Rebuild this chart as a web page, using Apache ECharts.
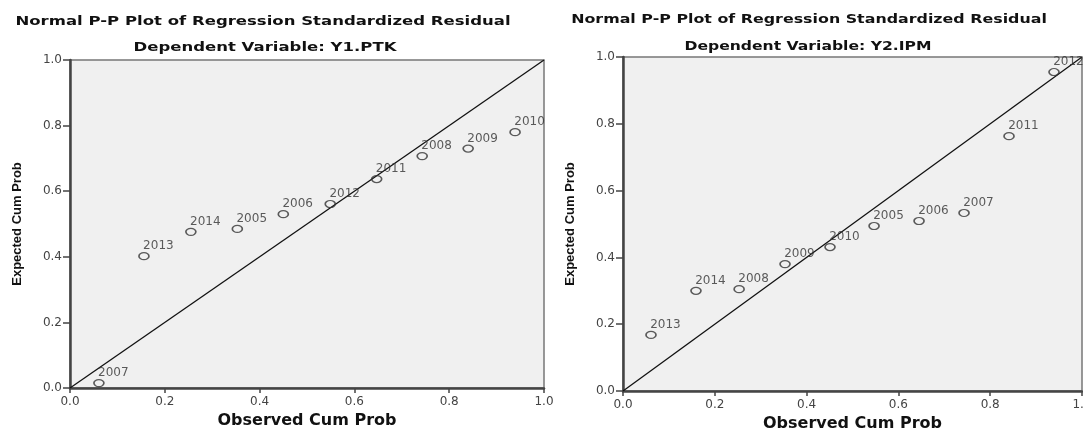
<!DOCTYPE html>
<html>
<head>
<meta charset="utf-8">
<script src="https://cdn.jsdelivr.net/npm/echarts@6/dist/echarts.min.js"></script>
<style>
html,body{margin:0;padding:0;background:#fff;}
#c{width:1083px;height:430px;}
</style>
</head>
<body>
<div id="c"></div>
<script>
// ---- data ----
const yearsY1 = ['2007','2013','2014','2005','2006','2012','2011','2008','2009','2010'];
const observedY1 = [0.061, 0.156, 0.255, 0.353, 0.450, 0.549, 0.647, 0.743, 0.840, 0.939];
const expectedY1 = [0.015, 0.402, 0.476, 0.485, 0.530, 0.561, 0.637, 0.707, 0.730, 0.780];

const yearsY2 = ['2013','2014','2008','2009','2010','2005','2006','2007','2011','2012'];
const observedY2 = [0.061, 0.159, 0.253, 0.353, 0.451, 0.547, 0.645, 0.743, 0.841, 0.939];
const expectedY2 = [0.168, 0.300, 0.305, 0.380, 0.431, 0.494, 0.509, 0.533, 0.763, 0.955];

const refLine = [0, 1];
const tickLabels = ['0.0','0.2','0.4','0.6','0.8','1.0'];
const titleMain = 'Normal P-P Plot of Regression Standardized Residual';
const titleSubs = ['Dependent Variable: Y1.PTK', 'Dependent Variable: Y2.IPM'];
const xName = 'Observed Cum Prob';
const yName = 'Expected Cum Prob';

// ---- chart ----
const chart = echarts.init(document.getElementById('c'));
const FONT = 'DejaVu Sans';

function pts(xs, ys, names) {
  return xs.map((x, i) => ({ value: [x, ys[i]], name: names[i] }));
}
function axisX(gi) {
  return {
    type: 'value', gridIndex: gi, min: 0, max: 1, interval: 0.2,
    name: xName, nameLocation: 'middle', nameGap: 25,
    nameTextStyle: { fontFamily: FONT, fontWeight: 'bold', fontSize: 16, color: '#111' },
    axisLine: { show: true, lineStyle: { color: '#444', width: 2.5 } },
    axisTick: { show: true, length: 5, lineStyle: { color: '#444', width: 1.5 } },
    axisLabel: { fontFamily: FONT, fontSize: 12, color: '#444', margin: 8,
      formatter: v => tickLabels[Math.round(v * 5)] },
    splitLine: { show: false }
  };
}
function axisY(gi) {
  return {
    type: 'value', gridIndex: gi, min: 0, max: 1, interval: 0.2,
    name: yName, nameLocation: 'middle', nameGap: 46, nameRotate: 90,
    nameTextStyle: { fontFamily: 'Liberation Sans', fontWeight: 'bold', fontSize: 13, color: '#111' },
    axisLine: { show: true, lineStyle: { color: '#444', width: 2.5 } },
    axisTick: { show: true, length: 7, lineStyle: { color: '#444', width: 1.5 } },
    axisLabel: { fontFamily: FONT, fontSize: 12, color: '#444', margin: 8,
      formatter: v => tickLabels[Math.round(v * 5)] },
    splitLine: { show: false }
  };
}
function scatter(gi, xs, ys, names) {
  return {
    type: 'scatter', xAxisIndex: gi, yAxisIndex: gi,
    data: pts(xs, ys, names),
    symbol: 'circle', symbolSize: [10, 7],
    itemStyle: { color: 'rgba(0,0,0,0)', borderColor: '#333', borderWidth: 1.4 },
    label: { show: true, formatter: p => p.name, position: [5, -12],
      fontFamily: FONT, fontSize: 12, color: '#333' },
    emphasis: { disabled: true }, z: 3
  };
}
function diag(gi) {
  return {
    type: 'line', xAxisIndex: gi, yAxisIndex: gi,
    data: [[refLine[0], refLine[0]], [refLine[1], refLine[1]]],
    showSymbol: false, symbol: 'none',
    lineStyle: { color: '#111', width: 1.3 }, z: 2, silent: true
  };
}
function titleText(txt, x, y, sx) {
  return {
    type: 'text', x: x, y: y, scaleX: sx, silent: true, z: 10,
    style: { text: txt, fill: '#111', textAlign: 'center', textVerticalAlign: 'middle',
      font: 'bold 13px "DejaVu Sans"' }
  };
}

chart.setOption({
  animation: false,
  backgroundColor: '#fff',
  graphic: [
    titleText(titleMain, 263, 22, 1.27),
    titleText(titleSubs[0], 265, 48, 1.27),
    titleText(titleMain, 809, 20, 1.22),
    titleText(titleSubs[1], 808, 47, 1.2)
  ],
  grid: [
    { left: 70, top: 60, width: 474, height: 328, show: true, outerBoundsMode: 'none', containLabel: false,
      backgroundColor: '#f0f0f0', borderColor: '#777', borderWidth: 1.5 },
    { left: 623, top: 57, width: 459, height: 334, show: true, outerBoundsMode: 'none', containLabel: false,
      backgroundColor: '#f0f0f0', borderColor: '#777', borderWidth: 1.5 }
  ],
  xAxis: [axisX(0), axisX(1)],
  yAxis: [axisY(0), axisY(1)],
  series: [
    diag(0), scatter(0, observedY1, expectedY1, yearsY1),
    diag(1), scatter(1, observedY2, expectedY2, yearsY2)
  ]
});
</script>
</body>
</html>
